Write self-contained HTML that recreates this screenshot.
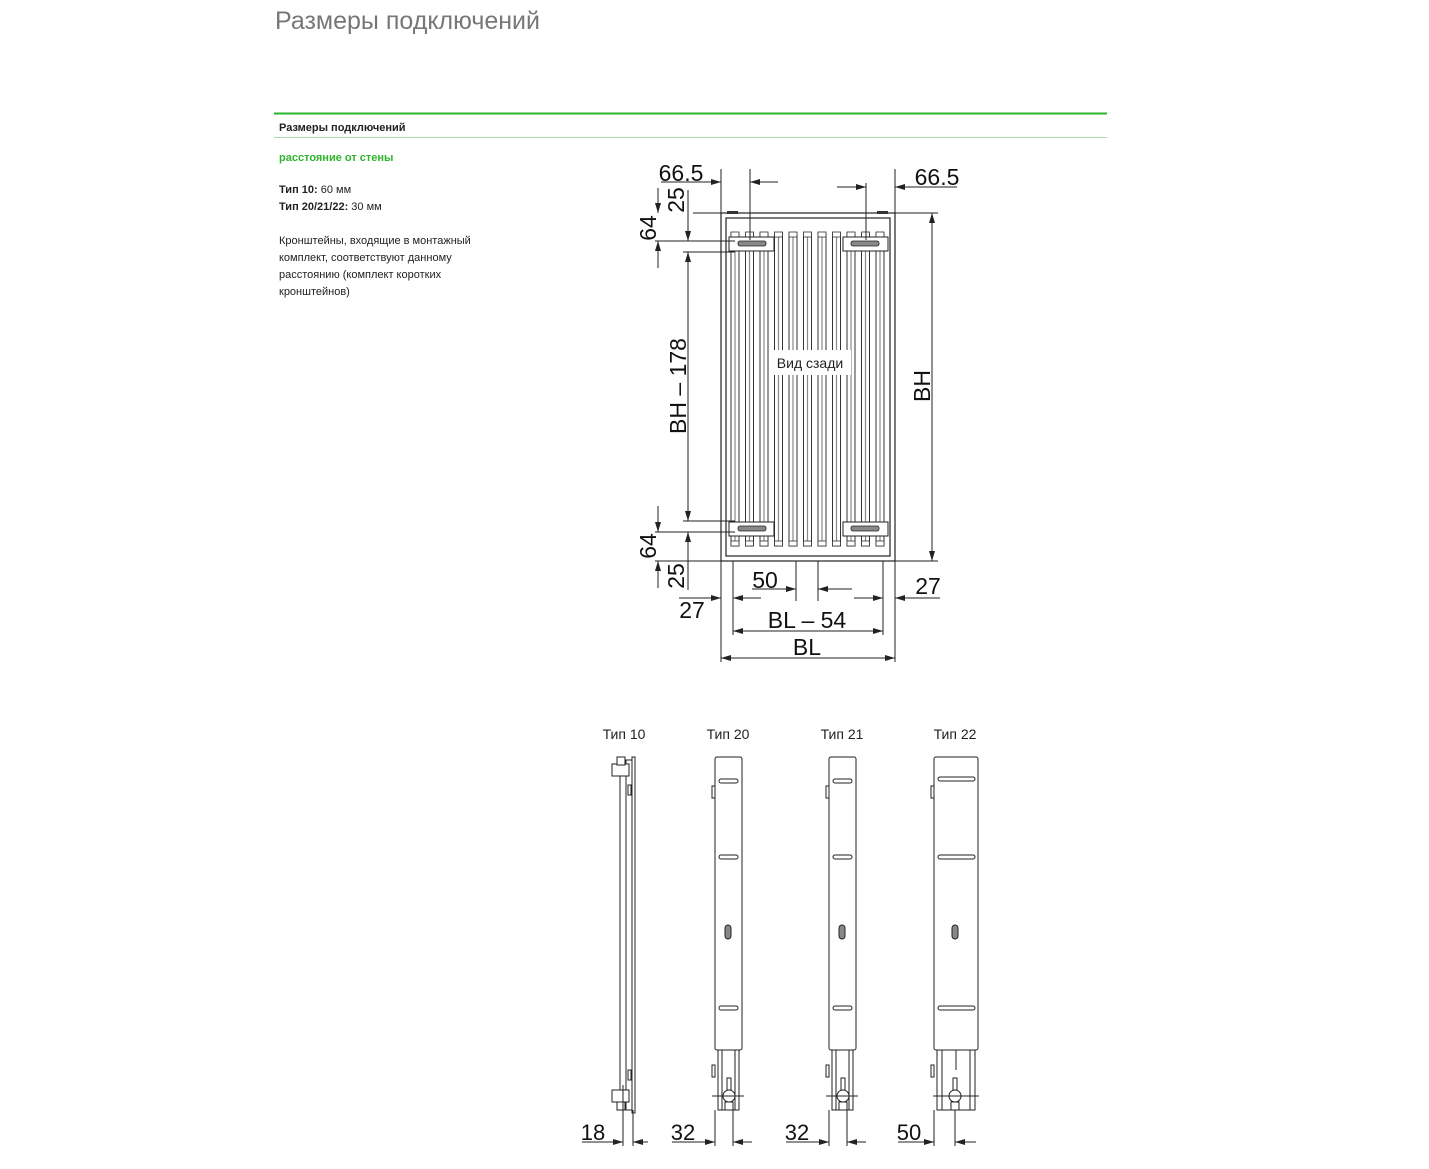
<!DOCTYPE html>
<html><head><meta charset="utf-8"><style>
body{margin:0;background:#fff;width:1429px;height:1169px;overflow:hidden;font-family:"Liberation Sans","DejaVu Sans",sans-serif;}
svg{position:absolute;left:0;top:0}
</style></head><body>
<svg width="1429" height="1169" viewBox="0 0 1429 1169" xmlns="http://www.w3.org/2000/svg" font-family="Liberation Sans, DejaVu Sans, sans-serif">
<defs>
<marker id="a" viewBox="0 0 10 6" refX="10" refY="3" markerWidth="10" markerHeight="6" orient="auto" markerUnits="userSpaceOnUse"><path d="M0,0L10,3L0,6z" fill="#222"/></marker>
<g id="tube">
<rect x="0" y="233" width="8" height="313" fill="#fff" stroke="#333" stroke-width="1"/>
<line x1="4" y1="233" x2="4" y2="546" stroke="#888" stroke-width="1.2"/>
<rect x="0" y="232" width="8" height="5" fill="#fff" stroke="#333" stroke-width="0.8"/>
<rect x="0" y="541" width="8" height="5" fill="#fff" stroke="#333" stroke-width="0.8"/>
</g>
</defs>

<!-- header -->
<text x="275" y="29" font-size="25" fill="#777">Размеры подключений</text>
<line x1="274" y1="113.5" x2="1107" y2="113.5" stroke="#2db52d" stroke-width="2"/>
<line x1="274" y1="137.5" x2="1107" y2="137.5" stroke="#a8dca8" stroke-width="1"/>
<text x="279" y="131" font-size="11" font-weight="bold" fill="#222">Размеры подключений</text>
<text x="279" y="161" font-size="11" font-weight="bold" fill="#2db52d">расстояние от стены</text>
<text x="279" y="193" font-size="11" fill="#222"><tspan font-weight="bold">Тип 10:</tspan> 60 мм</text>
<text x="279" y="210" font-size="11" fill="#222"><tspan font-weight="bold">Тип 20/21/22:</tspan> 30 мм</text>
<text font-size="11" fill="#222"><tspan x="279" y="244">Кронштейны, входящие в монтажный</tspan><tspan x="279" y="261">комплект, соответствуют данному</tspan><tspan x="279" y="278">расстоянию (комплект коротких</tspan><tspan x="279" y="295">кронштейнов)</tspan></text>

<!-- radiator back view -->
<g stroke="#222" fill="none" stroke-width="1.2">
<rect x="721" y="213" width="174" height="348" fill="#fff"/>
<rect x="726" y="218" width="164" height="338"/>
</g>
<use href="#tube" x="731"/><use href="#tube" x="745.5"/><use href="#tube" x="760"/><use href="#tube" x="774.5"/>
<use href="#tube" x="789"/><use href="#tube" x="803.5"/><use href="#tube" x="818"/><use href="#tube" x="832.5"/>
<use href="#tube" x="847"/><use href="#tube" x="861.5"/><use href="#tube" x="876"/>
<g fill="#fff" stroke="#222" stroke-width="1">
<rect x="729" y="237" width="45" height="14"/><rect x="843" y="237" width="45" height="14"/>
<rect x="729" y="522" width="45" height="14"/><rect x="843" y="522" width="45" height="14"/>
</g>
<g fill="#888" stroke="#222" stroke-width="0.8">
<rect x="738" y="241" width="28" height="5" rx="2"/><rect x="851" y="241" width="28" height="5" rx="2"/>
<rect x="738" y="526" width="28" height="5" rx="2"/><rect x="851" y="526" width="28" height="5" rx="2"/>
</g>
<g fill="#333"><rect x="727" y="211" width="11" height="3"/><rect x="877" y="211" width="11" height="3"/></g>
<rect x="771" y="350" width="80" height="25" fill="#fff"/>
<text x="810" y="368" font-size="14" text-anchor="middle" fill="#222">Вид сзади</text>

<!-- dimension lines -->
<g stroke="#222" stroke-width="1" fill="none">
<line x1="721" y1="169" x2="721" y2="213"/><line x1="750" y1="169" x2="750" y2="240"/>
<line x1="866" y1="183" x2="866" y2="240"/><line x1="895" y1="169" x2="895" y2="213"/>
<line x1="693" y1="213" x2="721" y2="213"/><line x1="895" y1="213" x2="938" y2="213"/>
<line x1="655" y1="241" x2="735" y2="241"/><line x1="683" y1="252" x2="735" y2="252"/>
<line x1="683" y1="521" x2="735" y2="521"/><line x1="655" y1="532" x2="735" y2="532"/>
<line x1="655" y1="561" x2="721" y2="561"/><line x1="895" y1="561" x2="938" y2="561"/>
<line x1="721" y1="561" x2="721" y2="662"/><line x1="895" y1="561" x2="895" y2="662"/>
<line x1="733" y1="561" x2="733" y2="635"/><line x1="883" y1="561" x2="883" y2="635"/>
<line x1="796" y1="561" x2="796" y2="601"/><line x1="818" y1="561" x2="818" y2="601"/>
<line x1="661" y1="182" x2="721" y2="182" marker-end="url(#a)"/><line x1="778" y1="182" x2="750" y2="182" marker-end="url(#a)"/>
<line x1="837" y1="187" x2="866" y2="187" marker-end="url(#a)"/><line x1="957" y1="187" x2="895" y2="187" marker-end="url(#a)"/>
<line x1="688" y1="190" x2="688" y2="241" marker-end="url(#a)"/>
<line x1="658" y1="188" x2="658" y2="213" marker-end="url(#a)"/><line x1="658" y1="268" x2="658" y2="241" marker-end="url(#a)"/>
<line x1="688" y1="386" x2="688" y2="252" marker-end="url(#a)"/><line x1="688" y1="386" x2="688" y2="521" marker-end="url(#a)"/>
<line x1="932" y1="386" x2="932" y2="213" marker-end="url(#a)"/><line x1="932" y1="386" x2="932" y2="561" marker-end="url(#a)"/>
<line x1="658" y1="506" x2="658" y2="532" marker-end="url(#a)"/><line x1="658" y1="588" x2="658" y2="561" marker-end="url(#a)"/>
<line x1="688" y1="590" x2="688" y2="532" marker-end="url(#a)"/>
<line x1="752" y1="589" x2="796" y2="589" marker-end="url(#a)"/><line x1="852" y1="589" x2="818" y2="589" marker-end="url(#a)"/>
<line x1="679" y1="598" x2="721" y2="598" marker-end="url(#a)"/><line x1="761" y1="598" x2="733" y2="598" marker-end="url(#a)"/>
<line x1="854" y1="598" x2="883" y2="598" marker-end="url(#a)"/><line x1="940" y1="598" x2="895" y2="598" marker-end="url(#a)"/>
<line x1="808" y1="631" x2="733" y2="631" marker-end="url(#a)"/><line x1="808" y1="631" x2="883" y2="631" marker-end="url(#a)"/>
<line x1="808" y1="658" x2="721" y2="658" marker-end="url(#a)"/><line x1="808" y1="658" x2="895" y2="658" marker-end="url(#a)"/>
</g>
<g font-size="23" fill="#111">
<text x="681" y="181" text-anchor="middle">66.5</text>
<text x="937" y="185" text-anchor="middle">66.5</text>
<text transform="translate(684,200) rotate(-90)" text-anchor="middle">25</text>
<text transform="translate(656,228) rotate(-90)" text-anchor="middle">64</text>
<text transform="translate(686,386) rotate(-90)" text-anchor="middle">BH – 178</text>
<text transform="translate(930,386) rotate(-90)" text-anchor="middle">BH</text>
<text transform="translate(656,546) rotate(-90)" text-anchor="middle">64</text>
<text transform="translate(684,576) rotate(-90)" text-anchor="middle">25</text>
<text x="765" y="588" text-anchor="middle">50</text>
<text x="692" y="618" text-anchor="middle">27</text>
<text x="928" y="594" text-anchor="middle">27</text>
<text x="807" y="628" text-anchor="middle">BL – 54</text>
<text x="807" y="655" text-anchor="middle">BL</text>
</g>

<!-- side views -->
<g font-size="14" fill="#222" text-anchor="middle">
<text x="624" y="739">Тип 10</text><text x="728" y="739">Тип 20</text><text x="842" y="739">Тип 21</text><text x="955" y="739">Тип 22</text>
</g>
<g stroke="#222" stroke-width="1" fill="#fff">
<rect x="620" y="760" width="13" height="350"/>
<line x1="626" y1="760" x2="626" y2="1110"/>
<rect x="632" y="757" width="3" height="356"/>
<rect x="612" y="764" width="17" height="12"/><rect x="617" y="757" width="8" height="8"/>
<rect x="612" y="1090" width="17" height="12"/><rect x="617" y="1102" width="8" height="8"/>
<rect x="628" y="785" width="3" height="10"/><rect x="628" y="1070" width="3" height="10"/>
<g id="t20">
<rect x="715" y="757" width="27" height="293" rx="2"/>
<rect x="718" y="1050" width="21" height="60"/>
<line x1="722" y1="1050" x2="722" y2="1110"/><line x1="735" y1="1050" x2="735" y2="1110"/>
<rect x="719" y="779" width="19" height="4" rx="2"/><rect x="719" y="855" width="19" height="4" rx="2"/><rect x="719" y="1006" width="19" height="4" rx="2"/>
<rect x="712" y="786" width="3" height="12"/><rect x="712" y="1065" width="3" height="12"/>
<rect x="725" y="925" width="6" height="14" rx="3" fill="#888"/>
<circle cx="729" cy="1096" r="6"/><rect x="727" y="1078" width="4" height="12"/><rect x="725" y="1102" width="8" height="8"/>
<line x1="712" y1="1096" x2="744" y2="1096"/>
</g>
<use href="#t20" x="114"/>
<rect x="934" y="757" width="44" height="293" rx="2"/>
<rect x="937" y="1050" width="38" height="60"/>
<line x1="942" y1="1050" x2="942" y2="1110"/><line x1="970" y1="1050" x2="970" y2="1110"/><line x1="956" y1="1050" x2="956" y2="1070"/>
<rect x="938" y="777" width="37" height="4" rx="2"/><rect x="938" y="855" width="37" height="4" rx="2"/><rect x="938" y="1006" width="37" height="4" rx="2"/>
<rect x="931" y="786" width="3" height="12"/><rect x="931" y="1065" width="3" height="12"/>
<rect x="952" y="925" width="6" height="14" rx="3" fill="#888"/>
<circle cx="955" cy="1096" r="6"/><rect x="953" y="1078" width="4" height="12"/><rect x="951" y="1102" width="8" height="8"/>
<line x1="933" y1="1096" x2="979" y2="1096"/>
</g>
<g stroke="#222" stroke-width="1" fill="none">
<line x1="623" y1="1085" x2="623" y2="1146"/><line x1="633" y1="1110" x2="633" y2="1146"/>
<line x1="582" y1="1142" x2="623" y2="1142" marker-end="url(#a)"/><line x1="648" y1="1142" x2="633" y2="1142" marker-end="url(#a)"/>
<line x1="715" y1="1110" x2="715" y2="1146"/><line x1="733" y1="1110" x2="733" y2="1146"/>
<line x1="672" y1="1142" x2="715" y2="1142" marker-end="url(#a)"/><line x1="752" y1="1142" x2="733" y2="1142" marker-end="url(#a)"/>
<line x1="829" y1="1110" x2="829" y2="1146"/><line x1="847" y1="1110" x2="847" y2="1146"/>
<line x1="786" y1="1142" x2="829" y2="1142" marker-end="url(#a)"/><line x1="866" y1="1142" x2="847" y2="1142" marker-end="url(#a)"/>
<line x1="934" y1="1110" x2="934" y2="1146"/><line x1="955" y1="1110" x2="955" y2="1146"/>
<line x1="898" y1="1142" x2="934" y2="1142" marker-end="url(#a)"/><line x1="976" y1="1142" x2="955" y2="1142" marker-end="url(#a)"/>
</g>
<g font-size="22" fill="#111" text-anchor="middle">
<text x="593" y="1140">18</text><text x="683" y="1140">32</text><text x="797" y="1140">32</text><text x="909" y="1140">50</text>
</g>
</svg>
</body></html>
